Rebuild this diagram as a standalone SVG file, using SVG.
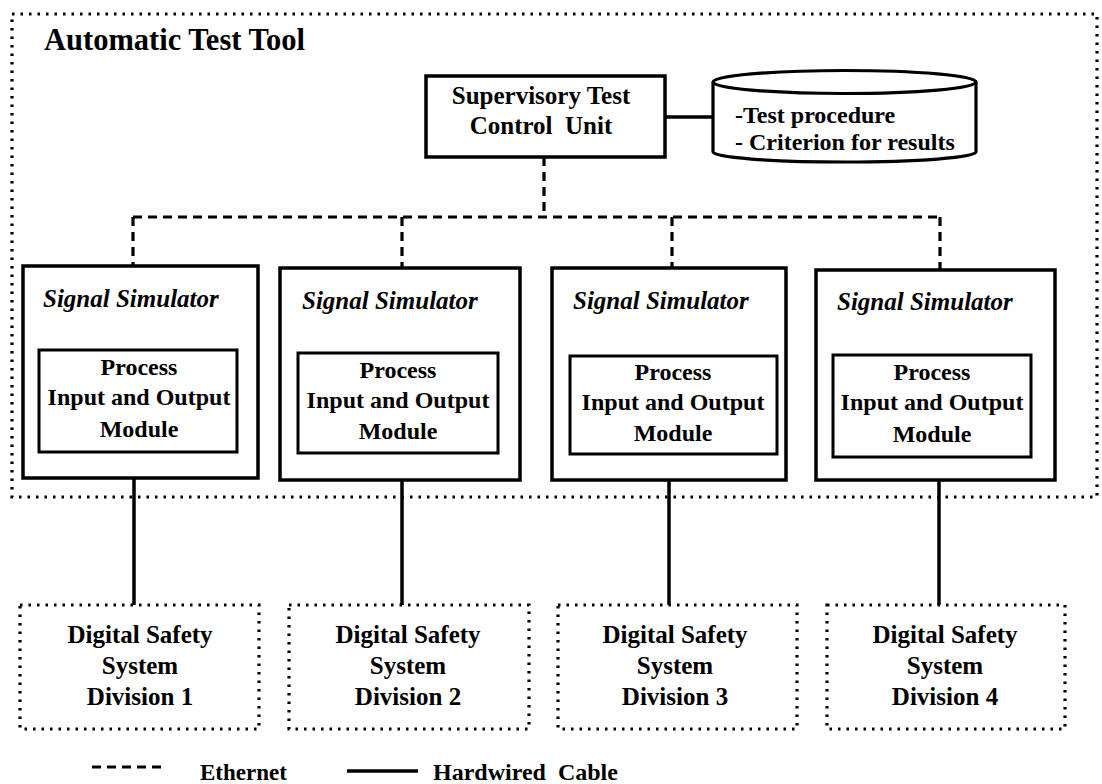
<svg xmlns="http://www.w3.org/2000/svg" width="1102" height="784" viewBox="0 0 1102 784" font-family="'Liberation Serif', 'Times New Roman', serif">
<style>
text{font-family:"Liberation Serif","Times New Roman",serif;font-weight:bold;fill:#000}
.t24{font-size:24px}
.t25{font-size:25px}
.ctr{text-anchor:middle}
.sim{font-size:25px;font-style:italic}
.box{fill:#fff;stroke:#000;stroke-width:3.5}
.inner{fill:#fff;stroke:#000;stroke-width:3}
.dot{fill:none;stroke:#000;stroke-width:3.2;stroke-dasharray:2.5 6}
.eth{fill:none;stroke:#000;stroke-width:3.2;stroke-dasharray:9 6}
.hw{fill:none;stroke:#000;stroke-width:3.5}
</style>
<rect width="1102" height="784" fill="#fff"/>
<g id="automatic-test-tool">
<rect class="dot" x="12" y="14" width="1085" height="483"/>
<text x="44" y="50" style="font-size:30.5px">Automatic Test Tool</text>
</g>
<g id="connectors">
<line class="hw" x1="665" y1="117" x2="713" y2="117"/>
<path class="eth" d="M544 157 V217"/>
<path class="eth" d="M133 217 H940"/>
<path class="eth" d="M133 217 V266"/>
<path class="eth" d="M402 217 V268"/>
<path class="eth" d="M672 217 V268"/>
<path class="eth" d="M940 217 V270"/>
<line class="hw" x1="134" y1="478" x2="134" y2="605"/>
<line class="hw" x1="402" y1="480" x2="402" y2="605"/>
<line class="hw" x1="669" y1="480" x2="669" y2="605"/>
<line class="hw" x1="939" y1="480" x2="939" y2="605"/>
</g>
<g id="supervisory-test-control-unit">
<rect class="box" x="426" y="76" width="239" height="81"/>
<text class="t25 ctr" x="541" y="104">Supervisory Test</text>
<text class="t25 ctr" x="541" y="134" style="white-space:pre">Control  Unit</text>
</g>
<g id="database">
<path fill="#fff" stroke="#000" stroke-width="3.2" d="M713 82 V152 A131.5 10 0 0 0 976 152 V82"/>
<ellipse cx="844.5" cy="82" rx="131.5" ry="11.5" fill="#fff" stroke="#000" stroke-width="3.2"/>
<text class="t24" x="735" y="123">-Test procedure</text>
<text class="t24" x="735" y="150">- Criterion for results</text>
</g>
<g id="signal-simulator-1">
<rect class="box" x="23" y="266" width="235" height="212"/>
<text class="sim" x="43" y="307">Signal Simulator</text>
<rect class="inner" x="39" y="350" width="198" height="102"/>
<text class="t24 ctr" x="139" y="375">Process</text>
<text class="t24 ctr" x="139" y="405">Input and Output</text>
<text class="t24 ctr" x="139" y="437">Module</text>
</g>
<g id="signal-simulator-2">
<rect class="box" x="280" y="268" width="240" height="212"/>
<text class="sim" x="302" y="309">Signal Simulator</text>
<rect class="inner" x="298" y="353" width="200" height="100"/>
<text class="t24 ctr" x="398" y="378">Process</text>
<text class="t24 ctr" x="398" y="408">Input and Output</text>
<text class="t24 ctr" x="398" y="439">Module</text>
</g>
<g id="signal-simulator-3">
<rect class="box" x="552" y="268" width="234" height="212"/>
<text class="sim" x="573" y="309">Signal Simulator</text>
<rect class="inner" x="570" y="356" width="207" height="98"/>
<text class="t24 ctr" x="673" y="380">Process</text>
<text class="t24 ctr" x="673" y="410">Input and Output</text>
<text class="t24 ctr" x="673" y="441">Module</text>
</g>
<g id="signal-simulator-4">
<rect class="box" x="816" y="270" width="239" height="210"/>
<text class="sim" x="837" y="310">Signal Simulator</text>
<rect class="inner" x="833" y="355" width="198" height="102"/>
<text class="t24 ctr" x="932" y="380">Process</text>
<text class="t24 ctr" x="932" y="410">Input and Output</text>
<text class="t24 ctr" x="932" y="442">Module</text>
</g>
<g id="division-1">
<rect class="dot" x="20" y="605" width="239" height="124"/>
<text class="t25 ctr" x="140" y="643">Digital Safety</text>
<text class="t25 ctr" x="140" y="674">System</text>
<text class="t25 ctr" x="140" y="705">Division 1</text>
</g>
<g id="division-2">
<rect class="dot" x="289" y="605" width="240" height="124"/>
<text class="t25 ctr" x="408" y="643">Digital Safety</text>
<text class="t25 ctr" x="408" y="674">System</text>
<text class="t25 ctr" x="408" y="705">Division 2</text>
</g>
<g id="division-3">
<rect class="dot" x="558" y="605" width="239" height="124"/>
<text class="t25 ctr" x="675" y="643">Digital Safety</text>
<text class="t25 ctr" x="675" y="674">System</text>
<text class="t25 ctr" x="675" y="705">Division 3</text>
</g>
<g id="division-4">
<rect class="dot" x="827" y="605" width="238" height="124"/>
<text class="t25 ctr" x="945" y="643">Digital Safety</text>
<text class="t25 ctr" x="945" y="674">System</text>
<text class="t25 ctr" x="945" y="705">Division 4</text>
</g>
<g id="legend">
<line class="eth" x1="92" y1="767" x2="163" y2="767"/>
<text x="200" y="780" style="font-size:23px">Ethernet</text>
<line class="hw" x1="347" y1="771" x2="418" y2="771"/>
<text x="433" y="780" style="font-size:24px;white-space:pre">Hardwired  Cable</text>
</g>
</svg>
